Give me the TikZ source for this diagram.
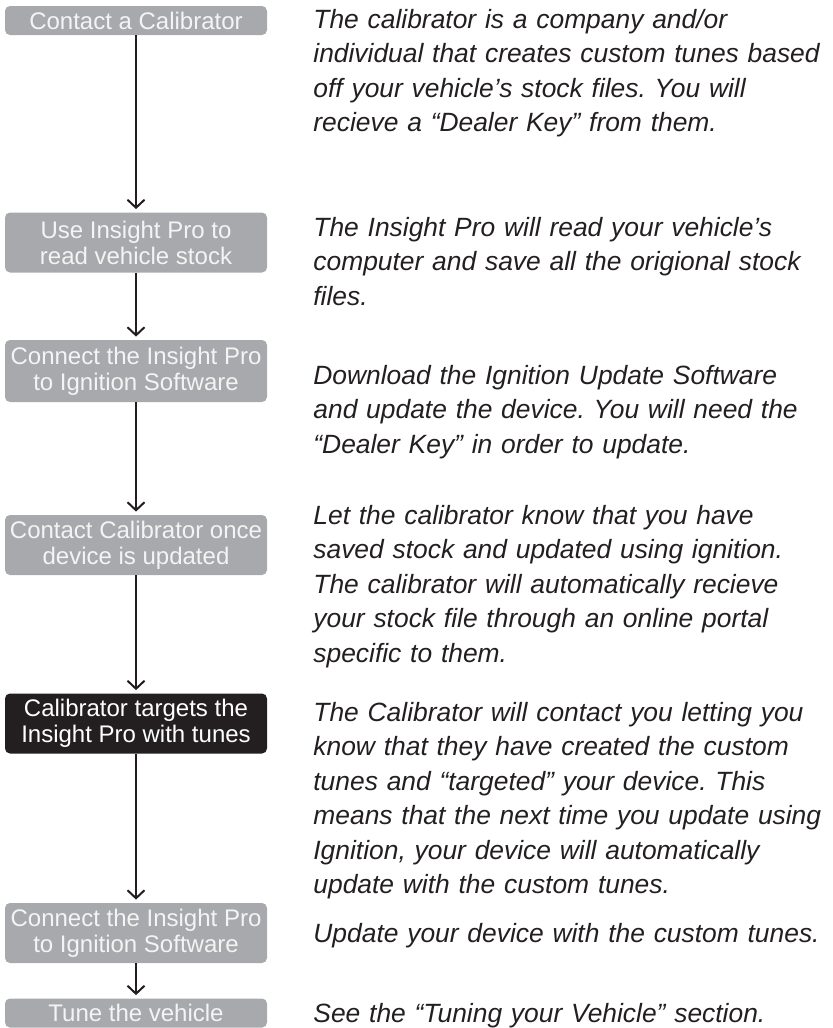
\documentclass[tikz,border=0pt]{standalone}
\usepackage{fontspec}
\setsansfont{Liberation Sans}
\usetikzlibrary{arrows.meta}
\frenchspacing
\definecolor{cBox}{HTML}{A7A9AC}
\definecolor{cBoxText}{HTML}{F4F4F4}
\definecolor{cKey}{HTML}{231F20}
\definecolor{cNote}{HTML}{231F20}
\definecolor{cLink}{HTML}{231F20}

\begin{document}
\begin{tikzpicture}[
  x=0.5pt, y=-0.5pt,
  font=\sffamily,
  >={Straight Barb[length=4pt, width=8.5pt, line width=1pt]},
  stepbox/.style={rounded corners=2.5pt, fill=cBox, text=cBoxText, inner sep=0pt,
                  minimum width=131pt, minimum height=30pt, align=center,
                  font=\sffamily\fontsize{12}{13}\selectfont},
  short/.style={minimum height=14.5pt},
  keybox/.style={stepbox, fill=cKey, text=white},
  note/.style={anchor=base west, inner sep=0pt, text width=262pt, align=left,
               text=cNote, font=\sffamily\itshape\fontsize{13.2}{17.25}\selectfont},
  flow/.style={->, draw=cLink, line width=1pt, shorten >=1.5pt},
]
\useasboundingbox (0,0) rectangle (833,1028);

% ---- Steps ---------------------------------------------------------------
\node[stepbox, short] (contact) at (136,20.5) {Contact a Calibrator};
\node[stepbox] (read)    at (136,242.5) {Use Insight Pro to\\read vehicle stock};
\node[stepbox, minimum height=31pt] (connect) at (136,371) {Connect the Insight Pro\\to Ignition Software};
\node[stepbox] (notify)  at (136,545) {Contact Calibrator once\\device is updated};
\node[keybox] (target)   at (136,723.5) {Calibrator targets the\\Insight Pro with tunes};
\node[stepbox] (update)  at (136,933) {Connect the Insight Pro\\to Ignition Software};
\node[stepbox, short] (tune) at (136,1013) {Tune the vehicle};

% ---- Descriptions --------------------------------------------------------
\node[note] (contact-txt) at (313,28)
  {The calibrator is a company and/or\\
   individual that creates custom tunes based\\
   off your vehicle’s stock files. You will\\
   recieve a “Dealer Key” from them.};
\node[note] (read-txt) at (313,236)
  {The Insight Pro will read your vehicle’s\\
   computer and save all the origional stock\\
   files.};
\node[note] (connect-txt) at (313,384)
  {Download the Ignition Update Software\\
   and update the device. You will need the\\
   “Dealer Key” in order to update.};
\node[note] (notify-txt) at (313,524)
  {Let the calibrator know that you have\\
   saved stock and updated using ignition.\\
   The calibrator will automatically recieve\\
   your stock file through an online portal\\
   specific to them.};
\node[note] (target-txt) at (313,721)
  {The Calibrator will contact you letting you\\
   know that they have created the custom\\
   tunes and “targeted” your device. This\\
   means that the next time you update using\\
   Ignition, your device will automatically\\
   update with the custom tunes.};
\node[note] (update-txt) at (313,942)
  {Update your device with the custom tunes.};
\node[note] (tune-txt) at (313,1022)
  {See the “Tuning your Vehicle” section.};

% ---- Connections ---------------------------------------------------------
\draw[flow] (contact) -- (read);
\draw[flow] (read) -- (connect);
\draw[flow] (connect) -- (notify);
\draw[flow] (notify) -- (target);
\draw[flow] (target) -- (update);
\draw[flow] (update) -- (tune);

\end{tikzpicture}
\end{document}
